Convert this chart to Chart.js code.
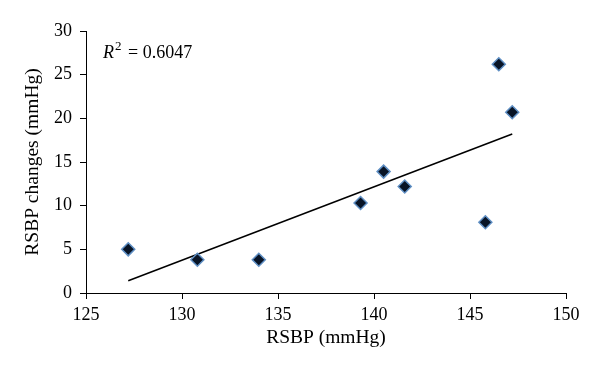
<!DOCTYPE html>
<html lang="en">
<head>
    <meta charset="UTF-8">
    <title>RSBP vs RSBP changes</title>
    <script src="https://cdn.jsdelivr.net/npm/chart.js"></script>
    <style>
        html, body { margin: 0; padding: 0; background: #fff; }
        #wrap { position: relative; width: 600px; height: 376px; }
    </style>
</head>
<body>
    <div id="wrap"><canvas id="scatter" width="600" height="376"></canvas></div>

    <script>
        // values
        const rsbp = [127.2, 130.8, 134.0, 139.3, 140.5, 141.6, 145.8, 146.5, 147.2];
        const rsbpChanges = [5.0, 3.8, 3.8, 10.3, 13.9, 12.2, 8.1, 26.2, 20.7];
        const trendX = [127.2, 147.2];
        const trendY = [1.4, 18.2];
        const r2Text = '0.6047';

        const serif = '"Liberation Serif", "DejaVu Serif", serif';

        // draw the R² note in the upper left of the plot area
        const r2Label = {
            id: 'r2Label',
            afterDraw(chart) {
                const ctx = chart.ctx;
                const x = chart.scales.x.getPixelForValue(125) + 17;
                const y = chart.scales.y.getPixelForValue(27.4);
                ctx.save();
                ctx.fillStyle = '#000';
                ctx.textBaseline = 'middle';
                ctx.font = 'italic 18px ' + serif;
                ctx.fillText('R', x, y);
                let w = ctx.measureText('R').width;
                ctx.font = '13px ' + serif;
                ctx.fillText('2', x + w + 1, y - 7);
                w += ctx.measureText('2').width + 1;
                ctx.font = '18px ' + serif;
                ctx.fillText(' = ' + r2Text, x + w + 2, y);
                ctx.restore();
            }
        };

        const pts = rsbp.map((v, i) => ({ x: v, y: rsbpChanges[i] }));
        const line = trendX.map((v, i) => ({ x: v, y: trendY[i] }));

        new Chart(document.getElementById('scatter').getContext('2d'), {
            type: 'scatter',
            data: {
                datasets: [{
                    label: 'RSBP changes',
                    data: pts,
                    pointStyle: 'rectRot',
                    pointRadius: 6.5,
                    pointHoverRadius: 6.5,
                    backgroundColor: '#081426',
                    borderColor: '#5f8fc4',
                    borderWidth: 1.5,
                    order: 1
                }, {
                    label: 'Trend',
                    type: 'line',
                    data: line,
                    borderColor: '#000',
                    borderWidth: 1.5,
                    pointRadius: 0,
                    fill: false,
                    order: 2
                }]
            },
            options: {
                responsive: false,
                animation: false,
                layout: { padding: { top: 31, right: 34, left: 0, bottom: 0 } },
                plugins: {
                    legend: { display: false },
                    tooltip: { enabled: false }
                },
                scales: {
                    x: {
                        type: 'linear',
                        min: 125,
                        max: 150,
                        ticks: { stepSize: 5, color: '#000', padding: 5, font: { family: serif, size: 18 } },
                        grid: { drawOnChartArea: false, drawTicks: true, tickLength: 6, color: '#000' },
                        border: { color: '#000', width: 1 },
                        title: { display: true, text: 'RSBP (mmHg)', color: '#000', padding: { top: 2, bottom: 26 }, font: { family: serif, size: 19.5 } },
                        afterFit(scale) { scale.height = 83; }
                    },
                    y: {
                        min: 0,
                        max: 30,
                        ticks: { stepSize: 5, color: '#000', padding: 8, font: { family: serif, size: 18 } },
                        grid: { drawOnChartArea: false, drawTicks: true, tickLength: 6, color: '#000' },
                        border: { color: '#000', width: 1 },
                        title: { display: true, text: 'RSBP changes (mmHg)', color: '#000', padding: { top: 21, bottom: 0 }, font: { family: serif, size: 19.5 } },
                        afterFit(scale) { scale.width = 86; }
                    }
                }
            },
            plugins: [r2Label]
        });
    </script>
</body>
</html>
